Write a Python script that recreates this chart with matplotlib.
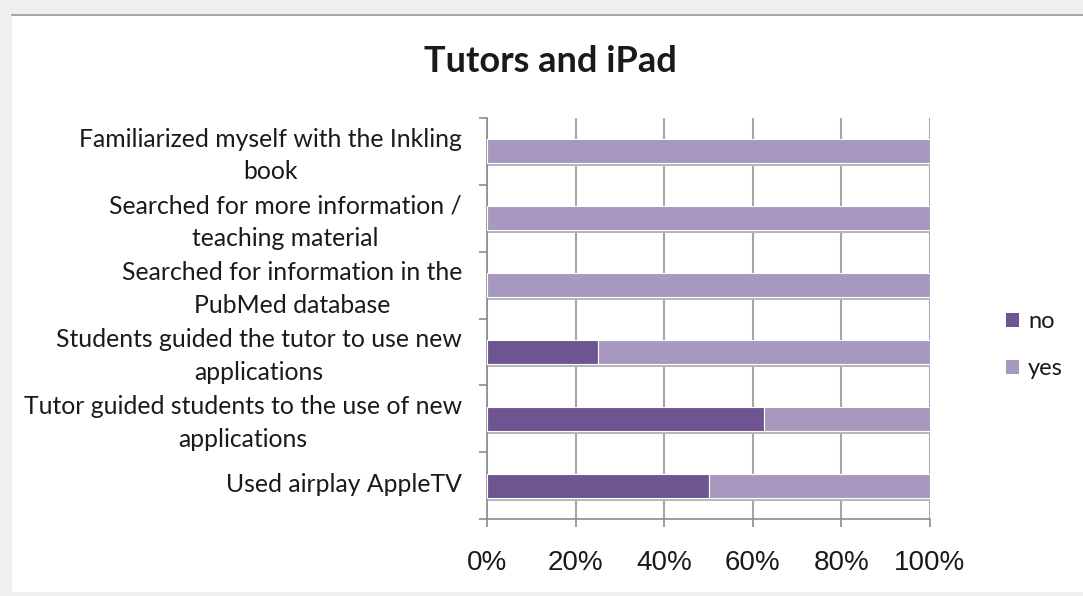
import matplotlib
matplotlib.use('Agg')
import matplotlib.pyplot as plt
from matplotlib.patches import Rectangle
import numpy as np

categories = ['Familiarized myself with the Inkling\nbook',
              'Searched for more information /\nteaching material',
              'Searched for information in the\nPubMed database',
              'Students guided the tutor to use new\napplications',
              'Tutor guided students to the use of new\napplications',
              'Used airplay AppleTV']
no_pct = [0, 0, 0, 25, 62.5, 50]
yes_pct = [100, 100, 100, 75, 37.5, 50]
xticks = [0, 20, 40, 60, 80, 100]
xticklabels = ['0%', '20%', '40%', '60%', '80%', '100%']

c_no = '#6e5490'
c_yes = '#a798c0'
txt = '#1a1a1a'

fig = plt.figure(figsize=(10.83, 5.96), dpi=100)
fig.patch.set_facecolor('#efefef')
# white panel with a thin gray top line
fig.add_artist(Rectangle((12/1083, 0.007), 1.0, 1 - 16/596 - 0.007,
                         transform=fig.transFigure, facecolor='white',
                         edgecolor='none', zorder=0))
fig.add_artist(plt.Line2D([12/1083, 1], [1 - 15/596, 1 - 15/596],
                          transform=fig.transFigure, color='#9a9a9a', lw=1.2))

ax = fig.add_axes([487/1083, 1 - 519/596, 443/1083, 401/596])
ax.set_facecolor('none')

y = np.arange(len(categories))[::-1]
total = np.array(no_pct) + np.array(yes_pct)
# soft drop shadow under each bar
ax.barh(y - 0.045, total, height=0.36, color='#b5b5b5', zorder=2)
b1 = ax.barh(y, no_pct, height=0.36, color=c_no, edgecolor='white', linewidth=0.8,
             label='no', zorder=3)
b2 = ax.barh(y, yes_pct, left=no_pct, height=0.36, color=c_yes, edgecolor='white',
             linewidth=0.8, label='yes', zorder=3)

ax.set_xlim(0, 100)
ax.set_ylim(-0.5, len(categories) - 0.5)
ax.set_xticks(xticks)
ax.set_xticklabels(xticklabels, fontsize=20, family='Liberation Sans', color=txt)
ax.set_yticks(y + 0.04)
ax.set_yticklabels(categories, fontsize=17.8, family='Lato', color=txt,
                   linespacing=1.5, multialignment='center')
ax.tick_params(axis='y', length=0, pad=18)
ax.tick_params(axis='x', length=6, color='#8c8c8c', width=1.2, pad=16)
# y ticks at category boundaries
ax.set_yticks(np.arange(-0.5, len(categories)), minor=True)
ax.tick_params(axis='y', which='minor', length=6, color='#8c8c8c', width=1.2)

ax.grid(axis='x', color='#a6a6a6', lw=1.5, zorder=1)
for s in ['top', 'right']:
    ax.spines[s].set_visible(False)
for s in ['left', 'bottom']:
    ax.spines[s].set_color('#8c8c8c')
    ax.spines[s].set_linewidth(1.2)

fig.text(550/1083, 1 - 61/596, 'Tutors and iPad', ha='center', va='center',
         fontsize=26, fontweight='bold', family='Lato', color=txt)

ax.legend(handles=[b1, b2], labels=['no', 'yes'], loc='center left',
          bbox_to_anchor=(1001/1083, 1 - 345/596), bbox_transform=fig.transFigure,
          frameon=False, prop={'family': 'Lato', 'size': 17}, handlelength=0.55,
          handleheight=0.55, handletextpad=0.4, labelspacing=1.1, labelcolor=txt,
          borderpad=0.2, borderaxespad=0)
leg = ax.get_legend()
for h in leg.legend_handles:
    h.set_edgecolor('none')

fig.savefig('out.png', dpi=100, facecolor=fig.get_facecolor())
